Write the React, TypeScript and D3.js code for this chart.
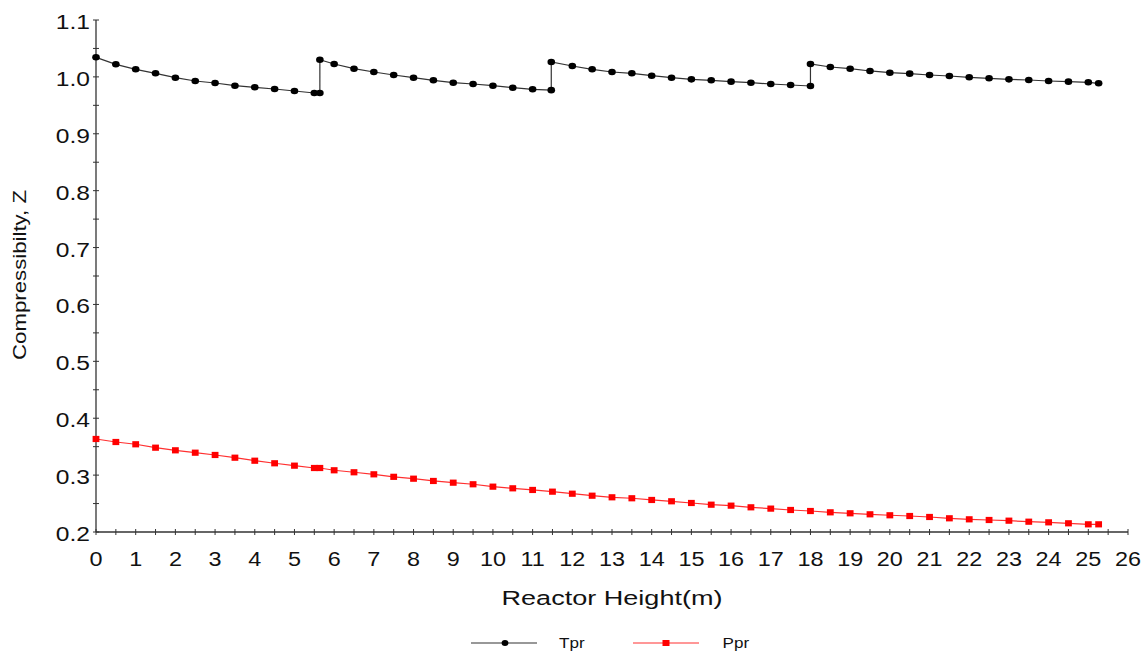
import React from "react";
import * as d3 from "d3";

const tprX = [0, 0.5, 1, 1.5, 2, 2.5, 3, 3.5, 4, 4.5, 5, 5.5, 5.64,
  5.64, 6, 6.5, 7, 7.5, 8, 8.5, 9, 9.5, 10, 10.5, 11, 11.47,
  11.47, 12, 12.5, 13, 13.5, 14, 14.5, 15, 15.5, 16, 16.5, 17, 17.5, 18,
  18, 18.5, 19, 19.5, 20, 20.5, 21, 21.5, 22, 22.5, 23, 23.5, 24, 24.5, 25, 25.26];
const tprY = [1.0344, 1.0221, 1.0133, 1.0063, 0.9986, 0.9928, 0.9893, 0.9845, 0.9817, 0.9787, 0.9752, 0.9717, 0.9717,
  1.0302, 1.0227, 1.0144, 1.0086, 1.0033, 0.9986, 0.994, 0.9898, 0.9875, 0.9845, 0.981, 0.9782, 0.9767,
  1.0262, 1.0191, 1.0133, 1.0086, 1.0063, 1.0021, 0.9986, 0.9957, 0.994, 0.9916, 0.9898, 0.9875, 0.9857, 0.984,
  1.0227, 1.0174, 1.0144, 1.0104, 1.0074, 1.0057, 1.0033, 1.0016, 0.9993, 0.9975, 0.9957, 0.9945, 0.9928, 0.9916, 0.9905, 0.9887];

const pprX = [0, 0.5, 1, 1.5, 2, 2.5, 3, 3.5, 4, 4.5, 5, 5.5, 5.64,
  6, 6.5, 7, 7.5, 8, 8.5, 9, 9.5, 10, 10.5, 11, 11.5, 12, 12.5, 13, 13.5, 14, 14.5,
  15, 15.5, 16, 16.5, 17, 17.5, 18, 18.5, 19, 19.5, 20, 20.5, 21, 21.5, 22, 22.5,
  23, 23.5, 24, 24.5, 25, 25.26];
const pprY = [0.3635, 0.3582, 0.3542, 0.3482, 0.3436, 0.3394, 0.3354, 0.3306, 0.3253, 0.3208, 0.3166, 0.3125, 0.3125,
  0.3085, 0.305, 0.3014, 0.297, 0.2937, 0.2897, 0.2867, 0.2839, 0.2797, 0.2768, 0.2739, 0.2709, 0.2673, 0.2638, 0.261, 0.2593, 0.2563, 0.254,
  0.251, 0.248, 0.2463, 0.2434, 0.2411, 0.2387, 0.2369, 0.2346, 0.2329, 0.2311, 0.2294, 0.2281, 0.2264, 0.2241, 0.2223, 0.2211,
  0.2199, 0.2181, 0.217, 0.2153, 0.2135, 0.2135];

const xTicks = d3.range(0, 27, 1);
const xMinorTicks = d3.range(0, 26.01, 0.5);
const yTicks = [0.2, 0.3, 0.4, 0.5, 0.6, 0.7, 0.8, 0.9, 1.0, 1.1];
const yMinorTicks = d3.range(0.2, 1.1001, 0.05);

const seriesNames = ["Tpr", "Ppr"];

export default function App() {
  const W = 1143, H = 654;
  const left = 96, right = 1128, top = 20, bottom = 532;
  const x = d3.scaleLinear().domain([0, 26]).range([left, right]);
  const y = d3.scaleLinear().domain([0.2, 1.1]).range([bottom, top]);
  const line = d3.line<[number, number]>().x(d => x(d[0])).y(d => y(d[1]));
  const tpr: [number, number][] = tprX.map((v, i) => [v, tprY[i]]);
  const ppr: [number, number][] = pprX.map((v, i) => [v, pprY[i]]);
  const font = "'Liberation Sans', Arial, sans-serif";
  const ax = "#333";
  const sx = 1.2;
  return (
    <svg width={W} height={H} style={{ position: "absolute", left: 0, top: 0, background: "#fff" }} fontFamily={font}>
      {/* axes */}
      <line x1={left} x2={left} y1={top} y2={bottom} stroke={ax} strokeWidth={1.3} />
      <line x1={left} x2={right} y1={bottom} y2={bottom} stroke={ax} strokeWidth={1.3} />
      {xMinorTicks.map((t, i) => (
        <line key={"xm" + i} x1={x(t)} x2={x(t)} y1={bottom - 3} y2={bottom + 3} stroke={ax} strokeWidth={1} />
      ))}
      {yMinorTicks.map((t, i) => (
        <line key={"ym" + i} x1={left - 3} x2={left + 3} y1={y(t)} y2={y(t)} stroke={ax} strokeWidth={1} />
      ))}
      {xTicks.map(t => (
        <text key={"xt" + t} transform={`translate(${x(t)},${bottom + 33.5}) scale(${sx},1)`} fontSize={19.5} textAnchor="middle" fill="#111">{t}</text>
      ))}
      {yTicks.map(t => (
        <text key={"yt" + t} transform={`translate(${left - 6},${y(t) + 9}) scale(${sx},1)`} fontSize={20.5} textAnchor="end" fill="#111">{t.toFixed(1)}</text>
      ))}
      <text x={(left + right) / 2} y={605} fontSize={20.5} textAnchor="middle" fill="#111" textLength={221} lengthAdjust="spacingAndGlyphs">Reactor Height(m)</text>
      <text transform={`translate(25.5,275) rotate(-90)`} fontSize={18.5} textAnchor="middle" fill="#111" textLength={170} lengthAdjust="spacingAndGlyphs">Compressibilty, Z</text>
      {/* series */}
      <path d={line(ppr) || ""} fill="none" stroke="#ff3030" strokeWidth={1.2} />
      {ppr.map((d, i) => (
        <rect key={"p" + i} x={x(d[0]) - 3.4} y={y(d[1]) - 3.1} width={6.8} height={6.2} fill="#ff0000" />
      ))}
      <path d={line(tpr) || ""} fill="none" stroke="#333" strokeWidth={1.2} />
      {tpr.map((d, i) => (
        <ellipse key={"t" + i} cx={x(d[0])} cy={y(d[1])} rx={3.8} ry={3.3} fill="#000" />
      ))}
      {/* legend */}
      <line x1={471} x2={537} y1={643} y2={643} stroke="#333" strokeWidth={1.2} />
      <ellipse cx={505} cy={643} rx={3.4} ry={3} fill="#000" />
      <text transform={`translate(559,648) scale(1.22,1)`} fontSize={14} fill="#111">{seriesNames[0]}</text>
      <line x1={633} x2={699} y1={643} y2={643} stroke="#ff3030" strokeWidth={1.2} />
      <rect x={662.5} y={640} width={7} height={6} fill="#ff0000" />
      <text transform={`translate(722.5,648) scale(1.22,1)`} fontSize={14} fill="#111">{seriesNames[1]}</text>
    </svg>
  );
}
